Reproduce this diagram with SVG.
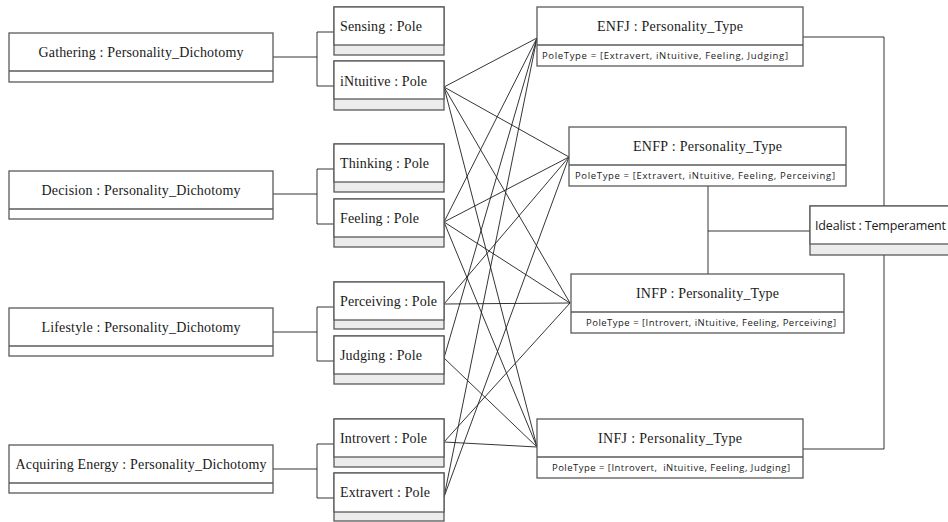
<svg xmlns="http://www.w3.org/2000/svg" width="948" height="522" viewBox="0 0 948 522">
  <style>
    .box { fill: #ffffff; stroke: #5a5a5a; stroke-width: 1.3; }
    .grey { fill: #ececec; stroke: #5a5a5a; stroke-width: 1.3; }
    .div { stroke: #5a5a5a; stroke-width: 1.3; }
    .title { font-family: "Liberation Serif", "Times New Roman", serif; font-size: 14px; fill: #1a1a1a; }
    .mid { text-anchor: middle; }
    .attr { font-family: "Open Sans", "Liberation Sans", sans-serif; font-size: 9.5px; fill: #1a1a1a; }
    .sans { font-family: "Open Sans", "Liberation Sans", sans-serif; font-size: 12.5px; fill: #1a1a1a; }
    .wire { fill: none; stroke: #1e1e1e; stroke-width: 0.9; }
  </style>

  <!-- connectors (drawn beneath the nodes) -->
  <g id="connectors">
    <!-- dichotomy to its two poles -->
    <polyline class="wire" points="273,57 317,57"/>
    <polyline class="wire" points="334,32 317,32 317,86 334,86"/>
    <polyline class="wire" points="273,194 317,194"/>
    <polyline class="wire" points="334,169 317,169 317,224 334,224"/>
    <polyline class="wire" points="273,332 317,332"/>
    <polyline class="wire" points="334,307 317,307 317,361 334,361"/>
    <polyline class="wire" points="273,469 317,469"/>
    <polyline class="wire" points="334,444 317,444 317,498 334,498"/>

    <!-- poles to personality types -->
    <line class="wire" x1="444" y1="87" x2="537" y2="38"/>
    <line class="wire" x1="444" y1="87" x2="569" y2="157"/>
    <line class="wire" x1="444" y1="87" x2="570" y2="303"/>
    <line class="wire" x1="444" y1="87" x2="537" y2="447"/>

    <line class="wire" x1="444" y1="222" x2="537" y2="38"/>
    <line class="wire" x1="444" y1="222" x2="569" y2="157"/>
    <line class="wire" x1="444" y1="222" x2="570" y2="303"/>
    <line class="wire" x1="444" y1="222" x2="537" y2="447"/>

    <line class="wire" x1="444" y1="304" x2="569" y2="157"/>
    <line class="wire" x1="444" y1="304" x2="570" y2="303"/>

    <line class="wire" x1="444" y1="358" x2="537" y2="38"/>
    <line class="wire" x1="444" y1="358" x2="537" y2="447"/>

    <line class="wire" x1="444" y1="442" x2="570" y2="303"/>
    <line class="wire" x1="444" y1="442" x2="537" y2="447"/>

    <line class="wire" x1="444" y1="497" x2="537" y2="38"/>
    <line class="wire" x1="444" y1="497" x2="569" y2="157"/>

    <!-- types to temperament -->
    <polyline class="wire" points="803,37 884,37 884,449 803,449"/>
    <polyline class="wire" points="708,186 708,274"/>
    <polyline class="wire" points="708,231 810,231"/>
  </g>

  <!-- dichotomies -->
  <g id="gathering">
    <rect class="box" x="9" y="33" width="264" height="49"/>
    <line class="div" x1="9" y1="71" x2="273" y2="71"/>
    <text class="title mid" x="141" y="57" textLength="205">Gathering : Personality_Dichotomy</text>
  </g>
  <g id="decision">
    <rect class="box" x="9" y="171" width="264" height="48"/>
    <line class="div" x1="9" y1="209" x2="273" y2="209"/>
    <text class="title mid" x="141" y="195" textLength="199">Decision : Personality_Dichotomy</text>
  </g>
  <g id="lifestyle">
    <rect class="box" x="9" y="308" width="264" height="48"/>
    <line class="div" x1="9" y1="346" x2="273" y2="346"/>
    <text class="title mid" x="141" y="332" textLength="199">Lifestyle : Personality_Dichotomy</text>
  </g>
  <g id="acquiring-energy">
    <rect class="box" x="9" y="445" width="264" height="48"/>
    <line class="div" x1="9" y1="483" x2="273" y2="483"/>
    <text class="title mid" x="141" y="469" textLength="251">Acquiring Energy : Personality_Dichotomy</text>
  </g>

  <!-- poles -->
  <g id="sensing">
    <rect class="grey" x="334" y="7" width="110" height="48"/>
    <rect class="box" x="334" y="7" width="110" height="38"/>
    <text class="title" x="340" y="31" textLength="82">Sensing : Pole</text>
  </g>
  <g id="intuitive">
    <rect class="grey" x="334" y="61" width="110" height="49"/>
    <rect class="box" x="334" y="61" width="110" height="38"/>
    <text class="title" x="340" y="86" textLength="87">iNtuitive : Pole</text>
  </g>
  <g id="thinking">
    <rect class="grey" x="334" y="144" width="110" height="48"/>
    <rect class="box" x="334" y="144" width="110" height="38"/>
    <text class="title" x="340" y="168" textLength="89">Thinking : Pole</text>
  </g>
  <g id="feeling">
    <rect class="grey" x="334" y="199" width="110" height="48"/>
    <rect class="box" x="334" y="199" width="110" height="38"/>
    <text class="title" x="340" y="223" textLength="79">Feeling : Pole</text>
  </g>
  <g id="perceiving">
    <rect class="grey" x="334" y="282" width="110" height="47"/>
    <rect class="box" x="334" y="282" width="110" height="38"/>
    <text class="title" x="340" y="306" textLength="97">Perceiving : Pole</text>
  </g>
  <g id="judging">
    <rect class="grey" x="334" y="336" width="110" height="48"/>
    <rect class="box" x="334" y="336" width="110" height="38"/>
    <text class="title" x="340" y="360" textLength="82">Judging : Pole</text>
  </g>
  <g id="introvert">
    <rect class="grey" x="334" y="419" width="110" height="48"/>
    <rect class="box" x="334" y="419" width="110" height="38"/>
    <text class="title" x="340" y="443" textLength="87">Introvert : Pole</text>
  </g>
  <g id="extravert">
    <rect class="grey" x="334" y="473" width="110" height="48"/>
    <rect class="box" x="334" y="473" width="110" height="39"/>
    <text class="title" x="340" y="497" textLength="90">Extravert : Pole</text>
  </g>

  <!-- personality types -->
  <g id="enfj">
    <rect class="box" x="537" y="7" width="266" height="59"/>
    <line class="div" x1="537" y1="45" x2="803" y2="45"/>
    <text class="title mid" x="670" y="31" textLength="146">ENFJ : Personality_Type</text>
    <text class="attr" x="542" y="59" textLength="246">PoleType = [Extravert, iNtuitive, Feeling, Judging]</text>
  </g>
  <g id="enfp">
    <rect class="box" x="569" y="127" width="277" height="59"/>
    <line class="div" x1="569" y1="165" x2="846" y2="165"/>
    <text class="title mid" x="707.5" y="151" textLength="149">ENFP : Personality_Type</text>
    <text class="attr" x="575" y="179" textLength="260">PoleType = [Extravert, iNtuitive, Feeling, Perceiving]</text>
  </g>
  <g id="infp">
    <rect class="box" x="571" y="274" width="273" height="59"/>
    <line class="div" x1="571" y1="312" x2="844" y2="312"/>
    <text class="title mid" x="707.5" y="298" textLength="143">INFP : Personality_Type</text>
    <text class="attr" x="586" y="326" textLength="250">PoleType = [Introvert, iNtuitive, Feeling, Perceiving]</text>
  </g>
  <g id="infj">
    <rect class="box" x="537" y="419" width="266" height="59"/>
    <line class="div" x1="537" y1="457" x2="803" y2="457"/>
    <text class="title mid" x="670" y="443" textLength="144">INFJ : Personality_Type</text>
    <text class="attr" x="552" y="471" textLength="238" xml:space="preserve">PoleType = [Introvert,  iNtuitive, Feeling, Judging]</text>
  </g>

  <!-- temperament -->
  <g id="idealist">
    <rect class="grey" x="810" y="206" width="150" height="49"/>
    <rect class="box" x="810" y="206" width="150" height="38"/>
    <text class="sans" x="815" y="230" textLength="131">Idealist : Temperament</text>
  </g>
</svg>
